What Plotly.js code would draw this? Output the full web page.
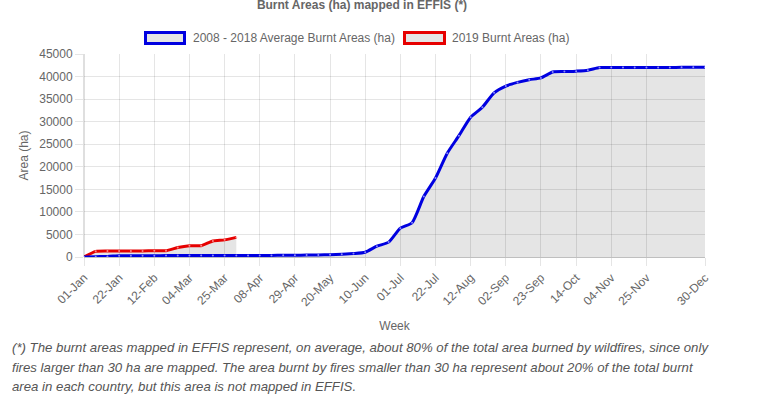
<!DOCTYPE html>
<html>
<head>
<meta charset="utf-8">
<script src="https://cdn.plot.ly/plotly-3.0.1.min.js"></script>
<style>
  html, body { margin: 0; padding: 0; background: #fff; }
  #wrap { position: relative; width: 778px; height: 399px; overflow: hidden; }
  #chart { position: absolute; left: 0; top: 0; width: 778px; height: 399px; }
  #note { position: absolute; left: 12px; top: 338px; font-family: "Liberation Sans", Arial, sans-serif;
          font-style: italic; font-size: 13px; line-height: 19.5px; color: #555; white-space: nowrap;
          transform-origin: 0 0; }
  #note span { display: inline-block; }
</style>
</head>
<body>
<div id="wrap">
  <div id="chart"></div>
  <div id="note"><span id="l1">(*) The burnt areas mapped in EFFIS represent, on average, about 80% of the total area burned by wildfires, since only</span><br><span>fires larger than 30 ha are mapped. The area burnt by fires smaller than 30 ha represent about 20% of the total burnt</span><br><span>area in each country, but this area is not mapped in EFFIS.</span></div>
</div>
<script>
// ---- data ----
const weeks = ["01-Jan","08-Jan","15-Jan","22-Jan","29-Jan","05-Feb","12-Feb","19-Feb","26-Feb","04-Mar",
  "11-Mar","18-Mar","25-Mar","01-Apr","04-Apr","08-Apr","15-Apr","22-Apr","29-Apr","06-May",
  "13-May","20-May","27-May","03-Jun","10-Jun","17-Jun","24-Jun","01-Jul","08-Jul","15-Jul",
  "22-Jul","29-Jul","05-Aug","12-Aug","19-Aug","26-Aug","02-Sep","09-Sep","16-Sep","23-Sep",
  "30-Sep","07-Oct","14-Oct","21-Oct","28-Oct","04-Nov","11-Nov","18-Nov","25-Nov","02-Dec",
  "09-Dec","16-Dec","23-Dec","30-Dec"];
const shownTicks = ["01-Jan","22-Jan","12-Feb","04-Mar","25-Mar","08-Apr","29-Apr","20-May","10-Jun","01-Jul",
  "22-Jul","12-Aug","02-Sep","23-Sep","14-Oct","04-Nov","25-Nov","30-Dec"];
const avgName = "2008 - 2018 Average Burnt Areas (ha)";
const avgValues = [0,80,120,280,290,300,300,310,310,320,
  320,330,330,340,340,350,360,380,400,430,
  460,520,620,760,1050,2400,3300,6400,7600,13400,
  17500,23000,26900,31000,33200,36400,37900,38700,39300,39700,
  41000,41100,41200,41400,42000,42000,42000,42000,42000,42000,
  42000,42050,42050,42050];
const y2019Name = "2019 Burnt Areas (ha)";
const y2019Values = [0,1250,1350,1350,1350,1350,1400,1400,2100,2500,2500,3550,3800,4350];
const yTicks = [0,5000,10000,15000,20000,25000,30000,35000,40000,45000];

// ---- layout helpers (pixel -> paper) ----
const W = 778, H = 399, L = 84, R = 73, T = 54, B = 142;
const pw = W - L - R, ph = H - T - B;
const px = x => (x - L) / pw;
const py = y => 1 - (y - T) / ph;

const gridC = "rgba(0,0,0,0.1)";
const fillC = "rgba(0,0,0,0.1)";
const textC = "#666";
const FONT = "Liberation Sans, Arial, sans-serif";

const traces = [
  {
    x: weeks.slice(0, y2019Values.length), y: y2019Values, name: y2019Name,
    type: "scatter", mode: "lines+markers", fill: "tozeroy", fillcolor: fillC,
    line: {color: "#e60000", width: 3, shape: "spline", smoothing: 0.6},
    marker: {size: 2, color: "rgba(255,170,170,0.8)"},
    hoverinfo: "skip"
  },
  {
    x: weeks, y: avgValues, name: avgName,
    type: "scatter", mode: "lines+markers", fill: "tozeroy", fillcolor: fillC,
    line: {color: "#0000e0", width: 3, shape: "spline", smoothing: 0.6},
    marker: {size: 2, color: "rgba(170,170,255,0.8)"},
    hoverinfo: "skip"
  }
];

const layout = {
  width: W, height: H,
  margin: {l: L, r: R, t: T, b: B, pad: 0},
  paper_bgcolor: "#fff", plot_bgcolor: "#fff",
  showlegend: false,
  font: {family: FONT, size: 12, color: textC},
  title: {text: "<b>Burnt Areas (ha) mapped in EFFIS (*)</b>", x: 362 / W, xanchor: "center",
          yref: "container", y: 1 - 5 / H, yanchor: "middle",
          font: {family: FONT, size: 12, color: textC}},
  xaxis: {
    type: "category", categoryorder: "array", categoryarray: weeks,
    range: [0, weeks.length - 1],
    tickmode: "array", tickvals: shownTicks, ticktext: shownTicks,
    tickangle: -45, ticks: "outside", ticklen: 8, tickcolor: gridC,
    showgrid: true, gridcolor: gridC, gridwidth: 1,
    showline: false, zeroline: false,
    tickfont: {family: FONT, size: 12, color: textC},
    title: {text: "Week", standoff: 13, font: {family: FONT, size: 12, color: textC}}
  },
  yaxis: {
    range: [0, 45000], tickmode: "array", tickvals: yTicks, tickformat: "d",
    ticks: "outside", ticklen: 8, tickcolor: gridC,
    showgrid: true, gridcolor: gridC, gridwidth: 1,
    zeroline: true, zerolinecolor: "rgba(0,0,0,0.25)", zerolinewidth: 1,
    showline: false,
    tickfont: {family: FONT, size: 12, color: textC},
    title: {text: "Area (ha)", standoff: 8, font: {family: FONT, size: 12, color: textC}}
  },
  shapes: [
    {type: "line", xref: "paper", yref: "paper", x0: 0, x1: 0, y0: 0, y1: 1,
     line: {color: "rgba(0,0,0,0.25)", width: 1}, layer: "below"},
    {type: "rect", xref: "paper", yref: "paper", x0: px(145.5), x1: px(184.5), y0: py(32.5), y1: py(43.5),
     fillcolor: fillC, line: {color: "#0000e0", width: 3}},
    {type: "rect", xref: "paper", yref: "paper", x0: px(404.5), x1: px(444.5), y0: py(32.5), y1: py(43.5),
     fillcolor: fillC, line: {color: "#e60000", width: 3}}
  ],
  annotations: [
    {xref: "paper", yref: "paper", x: px(191), y: py(38), xanchor: "left", yanchor: "middle",
     text: avgName, showarrow: false, font: {family: FONT, size: 12, color: textC}},
    {xref: "paper", yref: "paper", x: px(450), y: py(38), xanchor: "left", yanchor: "middle",
     text: y2019Name, showarrow: false, font: {family: FONT, size: 12, color: textC}}
  ]
};

Plotly.newPlot("chart", traces, layout, {displayModeBar: false, staticPlot: true});

// fit the footnote's first line to the reference width
const l1 = document.getElementById("l1");
const w1 = l1.getBoundingClientRect().width;
document.getElementById("note").style.transform = "scaleX(" + (696 / w1) + ")";
</script>
</body>
</html>
